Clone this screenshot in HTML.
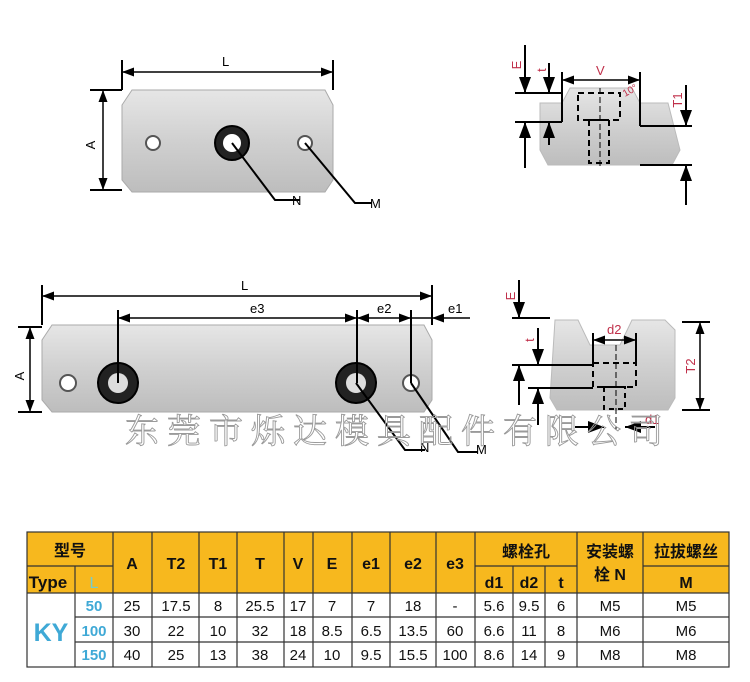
<!DOCTYPE html>
<html><head><meta charset="utf-8"><style>
html,body{margin:0;padding:0;background:#fff;}
svg{display:block;font-family:"Liberation Sans","Noto Sans CJK SC",sans-serif;}
</style></head><body>
<svg width="750" height="682" viewBox="0 0 750 682" xmlns="http://www.w3.org/2000/svg">
<defs>
<linearGradient id="g1" x1="0" y1="0" x2="0" y2="1"><stop offset="0" stop-color="#e6e6e6"/><stop offset="0.5" stop-color="#d0d0d0"/><stop offset="1" stop-color="#bdbdbd"/></linearGradient>
<marker id="ar" markerWidth="8" markerHeight="6" refX="8" refY="3" orient="auto-start-reverse"><path d="M0,0 L8,3 L0,6 z" fill="#000"/></marker>
</defs>
<rect width="750" height="682" fill="#fff"/>
<g stroke="#000" stroke-width="2" fill="none">
<path d="M132,90 L325,90 L333,105 L333,180 L325,192 L132,192 L122,180 L122,105 Z" fill="url(#g1)" stroke="#aaa" stroke-width="1"/>
<circle cx="153" cy="143" r="7" fill="#fff" stroke="#555"/>
<circle cx="232" cy="143" r="17" fill="#222"/><circle cx="232" cy="143" r="9" fill="#fff" stroke="none"/>
<circle cx="305" cy="143" r="7" fill="#fff" stroke="#555"/>
<line x1="122" y1="60" x2="122" y2="90"/><line x1="333" y1="60" x2="333" y2="90"/>
<line x1="122" y1="72" x2="333" y2="72" marker-start="url(#ar)" marker-end="url(#ar)" stroke-width="1.5"/>
<line x1="90" y1="90" x2="122" y2="90"/><line x1="90" y1="190" x2="122" y2="190"/>
<line x1="103" y1="90" x2="103" y2="190" marker-start="url(#ar)" marker-end="url(#ar)" stroke-width="1.5"/>
<polyline points="232,143 275,200 300,200"/>
<polyline points="305,143 355,203 372,203"/>
<path d="M540,103 L562,103 L570,88 L632,88 L640,103 L668,103 L680,150 L672,165 L548,165 L540,150 Z" fill="url(#g1)" stroke="#bbb" stroke-width="1"/>
<rect x="578" y="93" width="42" height="27" stroke-dasharray="6,4"/>
<rect x="589" y="120" width="20" height="43" stroke-dasharray="6,4"/>
<line x1="600" y1="88" x2="600" y2="168" stroke-width="1" stroke-dasharray="6,3"/>
<line x1="562" y1="72" x2="562" y2="122"/><line x1="640" y1="72" x2="640" y2="126"/>
<line x1="562" y1="80" x2="640" y2="80" marker-start="url(#ar)" marker-end="url(#ar)" stroke-width="1.5"/>
<line x1="515" y1="93" x2="562" y2="93"/><line x1="515" y1="122" x2="562" y2="122"/>
<line x1="640" y1="126" x2="692" y2="126"/><line x1="640" y1="165" x2="692" y2="165"/>
<line x1="525" y1="45" x2="525" y2="93" marker-end="url(#ar)"/>
<line x1="549" y1="63" x2="549" y2="93" marker-end="url(#ar)"/>
<line x1="525" y1="168" x2="525" y2="122" marker-end="url(#ar)"/>
<line x1="549" y1="145" x2="549" y2="122" marker-end="url(#ar)"/>
<line x1="686" y1="85" x2="686" y2="126" marker-end="url(#ar)"/>
<line x1="686" y1="205" x2="686" y2="165" marker-end="url(#ar)"/>
<path d="M52,325 L424,325 L432,340 L432,400 L424,412 L52,412 L42,400 L42,340 Z" fill="url(#g1)" stroke="#aaa" stroke-width="1"/>
<circle cx="68" cy="383" r="8" fill="#fff" stroke="#555"/>
<circle cx="118" cy="383" r="20" fill="#222"/><circle cx="118" cy="383" r="10" fill="#ddd" stroke="none"/>
<circle cx="356" cy="383" r="20" fill="#222"/><circle cx="356" cy="383" r="10" fill="#ddd" stroke="none"/>
<circle cx="411" cy="383" r="8" fill="#fff" stroke="#555"/>
<line x1="42" y1="285" x2="42" y2="325"/><line x1="432" y1="285" x2="432" y2="325"/>
<line x1="42" y1="296" x2="432" y2="296" marker-start="url(#ar)" marker-end="url(#ar)" stroke-width="1.5"/>
<line x1="118" y1="310" x2="118" y2="383"/><line x1="357" y1="310" x2="357" y2="383"/><line x1="411" y1="310" x2="411" y2="383"/>
<line x1="118" y1="318" x2="357" y2="318" marker-start="url(#ar)" marker-end="url(#ar)" stroke-width="1.5"/>
<line x1="357" y1="318" x2="411" y2="318" marker-start="url(#ar)" marker-end="url(#ar)" stroke-width="1.5"/>
<line x1="411" y1="318" x2="432" y2="318" stroke-width="1.5"/>
<line x1="450" y1="318" x2="432" y2="318" marker-end="url(#ar)" stroke-width="1.5"/>
<line x1="450" y1="318" x2="470" y2="318" stroke-width="1.5"/>
<line x1="18" y1="327" x2="42" y2="327"/><line x1="18" y1="412" x2="42" y2="412"/>
<line x1="30" y1="327" x2="30" y2="412" marker-start="url(#ar)" marker-end="url(#ar)" stroke-width="1.5"/>
<polyline points="356,383 405,450 425,450"/>
<polyline points="411,383 458,452 478,452"/>
<path d="M555,320 L578,320 L590,345 L620,345 L632,320 L665,320 L675,330 L675,398 L668,410 L557,410 L550,398 Z" fill="url(#g1)" stroke="#bbb" stroke-width="1"/>
<rect x="593" y="363" width="43" height="24" stroke-dasharray="6,4"/>
<rect x="604" y="387" width="21" height="22" stroke-dasharray="5,4"/>
<line x1="616" y1="345" x2="616" y2="430" stroke-width="1" stroke-dasharray="6,3"/>
<line x1="593" y1="333" x2="593" y2="363"/><line x1="636" y1="333" x2="636" y2="363"/>
<line x1="593" y1="340" x2="636" y2="340" marker-start="url(#ar)" marker-end="url(#ar)" stroke-width="1.5"/>
<line x1="512" y1="318" x2="550" y2="318"/>
<line x1="512" y1="365" x2="593" y2="365"/>
<line x1="528" y1="388" x2="593" y2="388"/>
<line x1="682" y1="322" x2="710" y2="322"/><line x1="682" y1="410" x2="710" y2="410"/>
<line x1="700" y1="322" x2="700" y2="410" marker-start="url(#ar)" marker-end="url(#ar)" stroke-width="1.5"/>
<line x1="519" y1="280" x2="519" y2="318" marker-end="url(#ar)"/>
<line x1="538" y1="328" x2="538" y2="365" marker-end="url(#ar)"/>
<line x1="519" y1="405" x2="519" y2="365" marker-end="url(#ar)"/>
<line x1="538" y1="425" x2="538" y2="388" marker-end="url(#ar)"/>
<line x1="575" y1="427" x2="604" y2="427" marker-end="url(#ar)"/>
<line x1="655" y1="427" x2="625" y2="427" marker-end="url(#ar)"/>
</g>
<g font-size="13" fill="#000">
<text x="222" y="66">L</text>
<text x="95" y="145" transform="rotate(-90 95 145)" text-anchor="middle">A</text>
<text x="292" y="205">N</text><text x="370" y="208">M</text>
<text x="241" y="290">L</text>
<text x="250" y="313">e3</text><text x="377" y="313">e2</text><text x="448" y="313">e1</text>
<text x="24" y="376" transform="rotate(-90 24 376)" text-anchor="middle">A</text>
<text x="420" y="452">N</text><text x="476" y="454">M</text>
</g>
<g font-size="13" fill="#c0304a">
<text x="596" y="75">V</text>
<text x="521" y="65" transform="rotate(-90 521 65)" text-anchor="middle">E</text>
<text x="546" y="70" transform="rotate(-90 546 70)" text-anchor="middle">t</text>
<text x="682" y="100" transform="rotate(-90 682 100)" text-anchor="middle">T1</text>
<text x="625" y="97" font-size="10" transform="rotate(-30 625 97)">10°</text>
<text x="607" y="334">d2</text>
<text x="515" y="296" transform="rotate(-90 515 296)" text-anchor="middle">E</text>
<text x="534" y="340" transform="rotate(-90 534 340)" text-anchor="middle">t</text>
<text x="695" y="366" transform="rotate(-90 695 366)" text-anchor="middle">T2</text>
<text x="645" y="424">d1</text>
</g>
<text x="125" y="443" font-size="34" fill="none" stroke="#9a9a9a" stroke-width="0.9" font-family="'Noto Serif CJK SC',serif" letter-spacing="8">东莞市烁达模具配件有限公司</text>
<g>
<rect x="27" y="532" width="702" height="61" fill="#f7b81e"/>
<rect x="27" y="593" width="702" height="74" fill="#fff"/>
<g stroke="#333" stroke-width="1.2" fill="none">
<rect x="27" y="532" width="702" height="135"/>
<line x1="27" y1="593" x2="729" y2="593"/>
<line x1="75" y1="617" x2="729" y2="617"/><line x1="75" y1="642" x2="729" y2="642"/>
<line x1="27" y1="566" x2="113" y2="566"/>
<line x1="475" y1="566" x2="577" y2="566"/>
<line x1="643" y1="566" x2="729" y2="566"/>
<line x1="75" y1="566" x2="75" y2="667"/>
<line x1="113" y1="532" x2="113" y2="667"/><line x1="152" y1="532" x2="152" y2="667"/>
<line x1="199" y1="532" x2="199" y2="667"/><line x1="237" y1="532" x2="237" y2="667"/>
<line x1="284" y1="532" x2="284" y2="667"/><line x1="313" y1="532" x2="313" y2="667"/>
<line x1="352" y1="532" x2="352" y2="667"/><line x1="390" y1="532" x2="390" y2="667"/>
<line x1="436" y1="532" x2="436" y2="667"/><line x1="475" y1="532" x2="475" y2="667"/>
<line x1="513" y1="566" x2="513" y2="667"/><line x1="545" y1="566" x2="545" y2="667"/>
<line x1="577" y1="532" x2="577" y2="667"/><line x1="643" y1="532" x2="643" y2="667"/>
</g>
<g font-size="16" font-weight="bold" text-anchor="middle" fill="#111">
<text x="70" y="556">型号</text><text x="48" y="588" font-size="17">Type</text>
<text x="94" y="588" fill="#7cc" font-weight="normal">L</text>
<text x="132" y="569">A</text><text x="176" y="569">T2</text><text x="218" y="569">T1</text>
<text x="260" y="569">T</text><text x="298" y="569">V</text><text x="332" y="569">E</text>
<text x="371" y="569">e1</text><text x="413" y="569">e2</text><text x="455" y="569">e3</text>
<text x="526" y="557">螺栓孔</text>
<text x="494" y="588">d1</text><text x="529" y="588">d2</text><text x="561" y="588">t</text>
<text x="610" y="557">安装螺</text><text x="610" y="580">栓 N</text>
<text x="686" y="557">拉拔螺丝</text><text x="686" y="588">M</text>
</g>
<text x="51" y="641" font-size="25" font-weight="bold" fill="#3fa9d6" text-anchor="middle">KY</text>
<g font-size="15" font-weight="bold" fill="#3fa9d6" text-anchor="middle">
<text x="94" y="611">50</text><text x="94" y="636">100</text><text x="94" y="660">150</text>
</g>
<g font-size="15" fill="#111" text-anchor="middle">
<text x="132" y="611">25</text><text x="176" y="611">17.5</text><text x="218" y="611">8</text><text x="260" y="611">25.5</text><text x="298" y="611">17</text><text x="332" y="611">7</text><text x="371" y="611">7</text><text x="413" y="611">18</text><text x="455" y="611">-</text><text x="494" y="611">5.6</text><text x="529" y="611">9.5</text><text x="561" y="611">6</text><text x="610" y="611">M5</text><text x="686" y="611">M5</text>
<text x="132" y="636">30</text><text x="176" y="636">22</text><text x="218" y="636">10</text><text x="260" y="636">32</text><text x="298" y="636">18</text><text x="332" y="636">8.5</text><text x="371" y="636">6.5</text><text x="413" y="636">13.5</text><text x="455" y="636">60</text><text x="494" y="636">6.6</text><text x="529" y="636">11</text><text x="561" y="636">8</text><text x="610" y="636">M6</text><text x="686" y="636">M6</text>
<text x="132" y="660">40</text><text x="176" y="660">25</text><text x="218" y="660">13</text><text x="260" y="660">38</text><text x="298" y="660">24</text><text x="332" y="660">10</text><text x="371" y="660">9.5</text><text x="413" y="660">15.5</text><text x="455" y="660">100</text><text x="494" y="660">8.6</text><text x="529" y="660">14</text><text x="561" y="660">9</text><text x="610" y="660">M8</text><text x="686" y="660">M8</text>
</g>
</g>
</svg>
</body></html>
